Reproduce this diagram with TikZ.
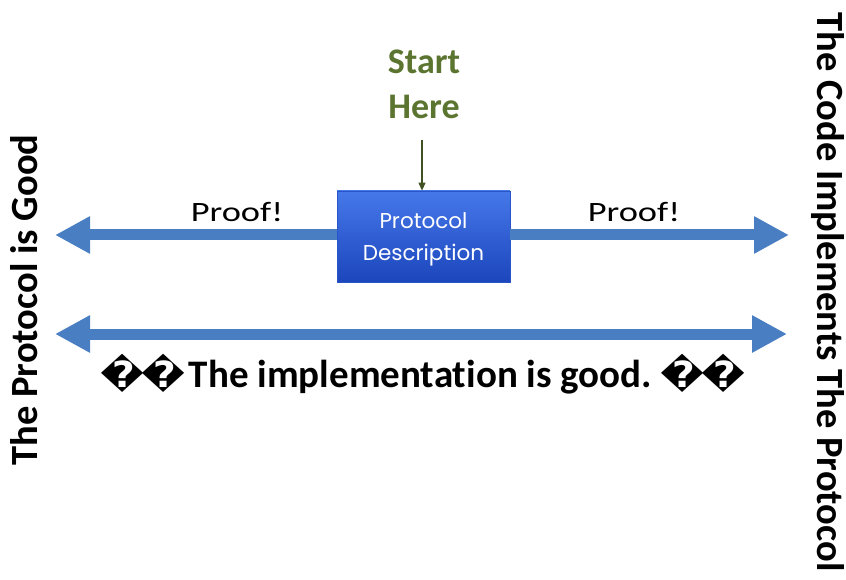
\documentclass[tikz,border=0pt]{standalone}
\usepackage{fontspec}
\setmainfont{Carlito}[Ligatures=NoCommon]
\newfontfamily\glyphfont{DejaVu Sans}[FakeStretch=1.1]
\newfontfamily\widefont{Carlito}[Ligatures=NoCommon,FakeStretch=1.3]
\newfontfamily\boxfont{Poppins}
\usetikzlibrary{arrows.meta}
\definecolor{arrowblue}{HTML}{4A7EC2}
\definecolor{startgreen}{HTML}{5B7430}
\definecolor{boxtop}{HTML}{4678EA}
\definecolor{boxbot}{HTML}{1C46BC}
\definecolor{boxline}{HTML}{2A55C8}
\tikzset{
  bigarrow/.style={draw=arrowblue, line width=11pt,
    -{Triangle[length=35pt,width=35pt]}},
  bothways/.style={draw=arrowblue, line width=11pt,
    {Triangle[length=35pt,width=35pt]}-{Triangle[length=35pt,width=35pt]}},
  protobox/.style={draw=boxline, line width=0.8pt, top color=boxtop,
    bottom color=boxbot, minimum width=173pt, minimum height=91pt,
    inner sep=0pt},
  boxtext/.style={align=center, text=white, inner sep=0pt,
    font=\boxfont\fontsize{21.5}{32}\selectfont},
  prooflabel/.style={font=\widefont\fontsize{28}{32}\selectfont},
  sidelabel/.style={font=\bfseries\fontsize{38.5}{42}\selectfont},
  startlabel/.style={text=startgreen, align=center,
    font=\bfseries\fontsize{36}{45}\selectfont},
  pointer/.style={draw=startgreen!70!black, line width=1.2pt,
    -{Triangle[length=8pt,width=7pt]}}
}
\newcommand{\badglyphs}{{\glyphfont\fontsize{36}{40}\selectfont\char"FFFD\kern-3pt\char"FFFD}}
\begin{document}
\begin{tikzpicture}[x=1pt,y=-1pt]
  \useasboundingbox (0,0) rectangle (846,580);
  % central box
  \node[protobox] (box) at (423.5,236.5) {};
  \node[boxtext] (boxtxt) at ([yshift=-3pt]box.center) {Protocol\\Description};
  % proof arrows out of the box
  \coordinate (ltip) at (55,235);
  \coordinate (rtip) at (789,235);
  \draw[bigarrow] (box.west |- ltip) -- (ltip);
  \draw[bigarrow] (box.east |- rtip) -- (rtip);
  \node[prooflabel] (proofl) at (237,212) {Proof!};
  \node[prooflabel] (proofr) at (634,212) {Proof!};
  % start marker
  \node[startlabel] (start) at (424,84) {Start\\Here};
  \coordinate (ptop) at (422,140);
  \draw[pointer] (ptop) -- (ptop |- box.north);
  % lower double arrow
  \coordinate (bl) at (55,334);
  \coordinate (br) at (787,334);
  \draw[bothways] (bl) -- (br);
  \node[font=\bfseries\fontsize{39}{42}\selectfont, inner sep=0pt] (claim) at (423,374)
    {\badglyphs\kern3pt The implementation is good.\kern8pt\badglyphs};
  % side captions
  \node[sidelabel, rotate=90] (left) at (24,300) {The Protocol is Good};
  \node[sidelabel, rotate=-90] (right) at (828,292) {The Code Implements The Protocol};
\end{tikzpicture}
\end{document}
